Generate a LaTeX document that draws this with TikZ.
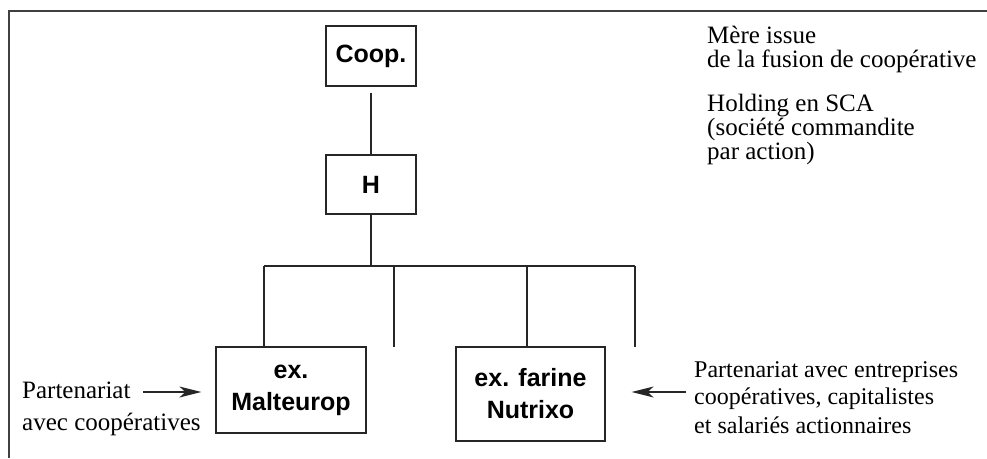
\documentclass[tikz,border=0pt]{standalone}
\usepackage{fontspec}
\setmainfont{Liberation Serif}
\newfontfamily\boxfont{Liberation Sans}
\usetikzlibrary{arrows.meta}
\begin{document}
\begin{tikzpicture}[x=1pt,y=-1pt,
  box/.style={draw=black!85, line width=1.2pt, inner sep=0pt, align=center,
    font=\boxfont\bfseries\fontsize{25}{32}\selectfont},
  note/.style={anchor=base west, inner sep=0pt, font=\fontsize{25}{25}\selectfont},
  notes/.style={note, font=\fontsize{24}{24}\selectfont},
  link/.style={draw=black!85, line width=1.2pt},
  arr/.style={link, -{Stealth[length=22pt,width=11pt,inset=6pt]}}]
\useasboundingbox (0,0) rectangle (987,458);
\draw[line width=1.5pt, black!75] (987,11) -- (9,11) -- (9,458);

% boxes
\node[box, minimum width=90pt, minimum height=60pt] (coop) at (371,56) {Coop.};
\node[box, minimum width=90pt, minimum height=59pt] (h) at (371,184.5) {H};
\node[box, minimum width=150pt, minimum height=86pt] (malt) at (291,390) {ex.\\Malteurop};
\node[box, minimum width=149pt, minimum height=94pt] (nutr) at (530.5,394) {ex. farine\\Nutrixo};

% tree
\coordinate (bar) at (0,266);
\coordinate (j1) at (264,266);
\coordinate (j2) at (394,266);
\coordinate (j3) at (527,266);
\coordinate (j4) at (635,266);
\coordinate (e2) at (394,347);
\coordinate (e4) at (635,347);
\draw[link] ([yshift=-6pt]coop.south) -- (h.north);
\draw[link] (h.south) -- (h.south |- bar);
\draw[link] (j1) -- (j4);
\draw[link] (j1) -- (j1 |- malt.north);
\draw[link] (j2) -- (e2);
\draw[link] (j3) -- (j3 |- nutr.north);
\draw[link] (j4) -- (e4);

% notes
\node[note] (m1) at (707,43) {Mère issue};
\node[note] (m2) at (707,67) {de la fusion de coopérative};
\node[note] (h1) at (707,111) {Holding en SCA};
\node[note] (h2) at (707,135) {(société commandite};
\node[note] (h3) at (707,159) {par action)};
\node[note] (p1) at (22,398) {Partenariat};
\node[note] (p2) at (22,430) {avec coopératives};
\node[notes] (q1) at (694,377) {Partenariat avec entreprises};
\node[notes] (q2) at (694,404) {coopératives, capitalistes};
\node[notes] (q3) at (694,433) {et salariés actionnaires};

% arrows
\coordinate (la) at (143,392);
\coordinate (ra) at (686,392);
\draw[arr, shorten >=14pt] (la) -- (malt.west |- la);
\draw[arr, shorten >=26pt] (ra) -- (nutr.east |- ra);
\end{tikzpicture}
\end{document}
